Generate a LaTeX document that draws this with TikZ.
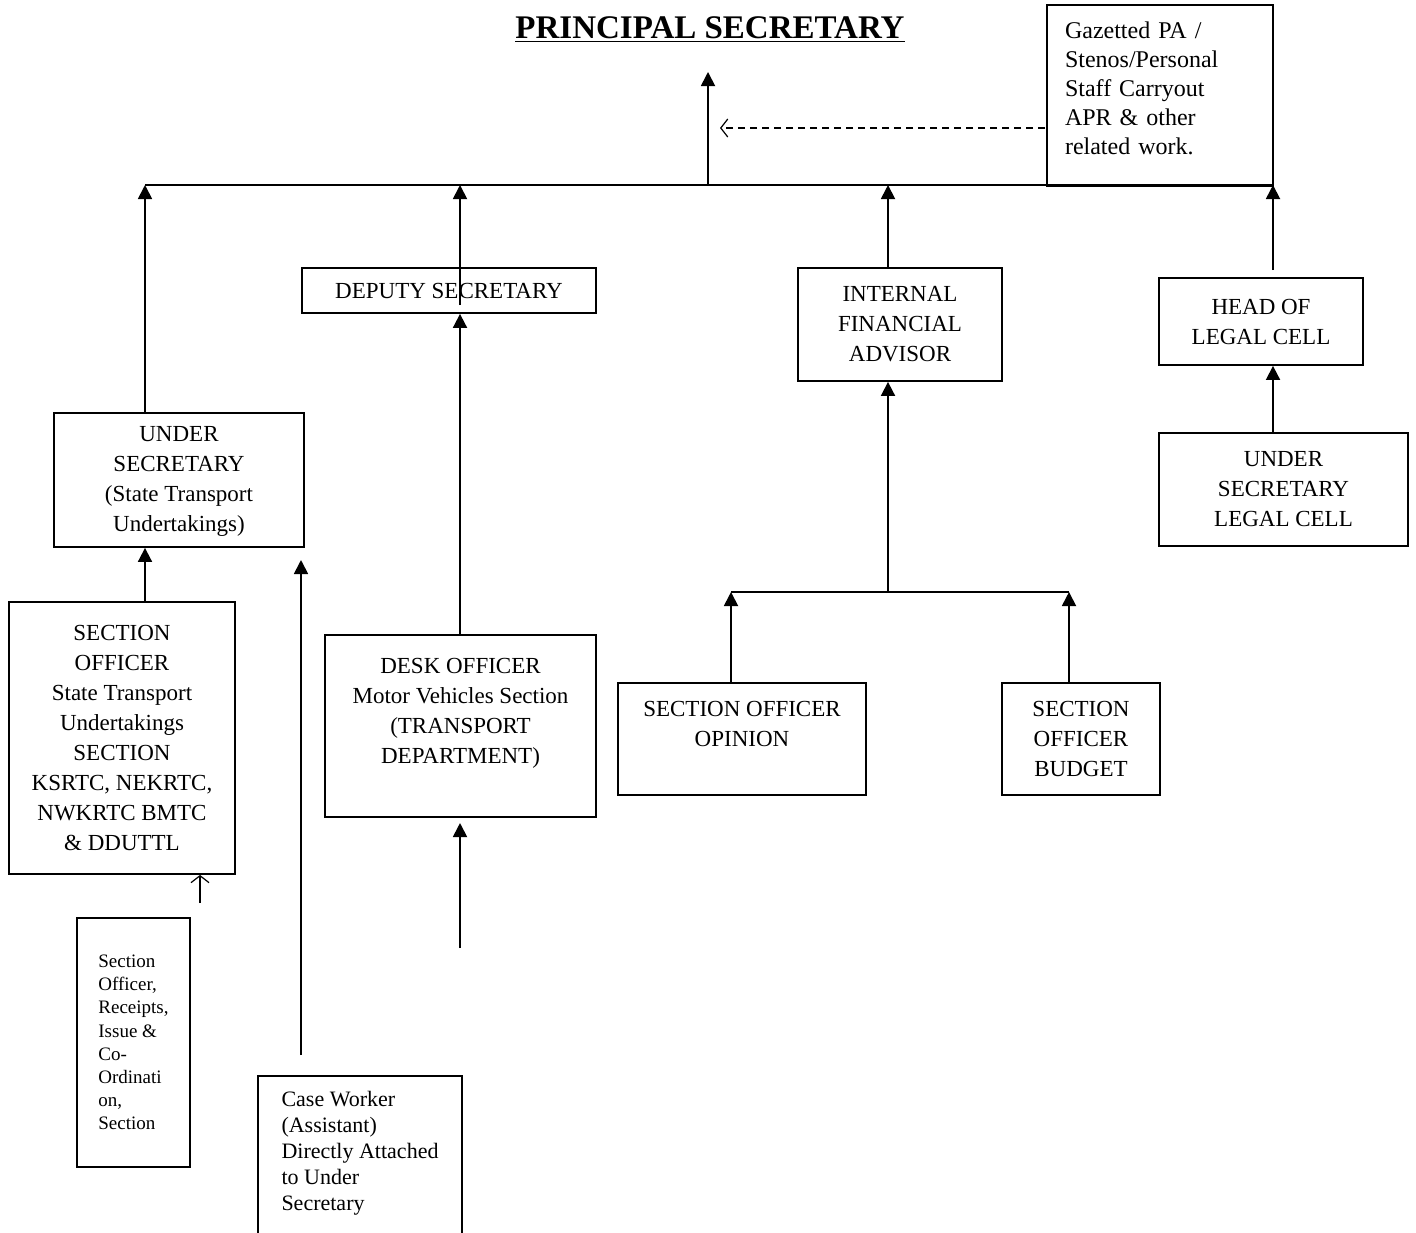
\documentclass[tikz,border=0pt]{standalone}
\usepackage{fontspec}
\setmainfont{Liberation Serif}
\usetikzlibrary{arrows.meta}
\tikzset{>={Triangle[width=7pt,length=7pt]}}
\tikzset{box/.style={draw, line width=0.9pt, align=center, inner sep=0pt,
    font=\fontsize{11.5}{15}\selectfont}}
\tikzset{barb/.style={-{Straight Barb[length=3.5pt,width=9pt]}, line width=0.6pt}}

\begin{document}
\begin{tikzpicture}[x=0.5pt,y=-0.5pt,line width=0.9pt]
  \clip (0,0) rectangle (1416,1232);

  \node[font=\fontsize{16.5}{19}\selectfont\bfseries] (ps) at (710,30)
    {\underline{PRINCIPAL SECRETARY}};

  \node[box, minimum width=113pt, minimum height=90.5pt, text width=95pt, align=left,
    font=\fontsize{12}{14.5}\selectfont] (gaz) at (1160,95.5)
    {Gazetted PA /\\Stenos/Personal\\Staff Carryout\\APR \& other\\related work.\\[-7.5pt]\mbox{}};

  \node[box, minimum width=147pt, minimum height=22.5pt] (dep) at (449,290.5)
    {DEPUTY SECRETARY};
  \node[box, minimum width=102pt, minimum height=56.5pt] (ifa) at (900,324.5)
    {INTERNAL\\FINANCIAL\\ADVISOR};
  \node[box, minimum width=102pt, minimum height=43.5pt] (hlc) at (1261,321.5)
    {HEAD OF\\LEGAL CELL};
  \node[box, minimum width=124.5pt, minimum height=56.5pt] (uslc) at (1283.5,489.5)
    {UNDER\\SECRETARY\\LEGAL CELL};
  \node[box, minimum width=125pt, minimum height=67pt] (ust) at (179,480)
    {\\[-6pt]UNDER\\SECRETARY\\(State Transport\\Undertakings)};
  \node[box, minimum width=113pt, minimum height=136pt] (sost) at (122,738)
    {SECTION\\OFFICER\\State Transport\\Undertakings\\SECTION\\KSRTC, NEKRTC,\\NWKRTC BMTC\\\& DDUTTL};
  \node[box, minimum width=135.5pt, minimum height=91pt] (desk) at (460.5,726)
    {DESK OFFICER\\Motor Vehicles Section\\(TRANSPORT\\DEPARTMENT)\\\mbox{}};
  \node[box, minimum width=124pt, minimum height=56pt] (opin) at (742,739)
    {SECTION OFFICER\\OPINION\\\mbox{}};
  \node[box, minimum width=79pt, minimum height=56pt] (budg) at (1081,739)
    {SECTION\\OFFICER\\BUDGET};
  \node[box, minimum width=56.5pt, minimum height=124.5pt, align=left,
    font=\fontsize{9.5}{11.6}\selectfont] (rcpt) at (133.5,1042.5)
    {Section\\Officer,\\Receipts,\\Issue \&\\Co-\\Ordinati\\on,\\Section};
  \node[box, minimum width=102pt, minimum height=82pt, align=left,
    font=\fontsize{11}{13}\selectfont] (cw) at (360,1158)
    {Case Worker\\(Assistant)\\Directly Attached\\to Under\\Secretary\\[-6pt]\mbox{}};

  \coordinate (busL) at (145,185);
  \coordinate (busR) at (1273,185);
  \coordinate (top) at (708,72);
  \coordinate (depin) at (460,305);
  \coordinate (ifabus) at (888,592);
  \coordinate (ibL) at (731,592);
  \coordinate (ibR) at (1069,592);
  \coordinate (hlcin) at (1273,270);
  \coordinate (deskin) at (460,948);
  \coordinate (deskout) at (460,823);
  \coordinate (cwa) at (301,1055);
  \coordinate (cwb) at (301,560);
  \coordinate (rca) at (200,903);
  \coordinate (dashR) at (1045,128);
  \coordinate (dashL) at (720,128);

  \draw (busL) -- (busR);
  \draw[->] (top |- busL) -- (top);
  \draw[barb, dash pattern=on 3.5pt off 2.5pt] (dashR) -- (dashL);

  \draw[->] (ust.north -| busL) -- (busL);
  \draw[->] (depin) -- (depin |- busL);
  \draw[->] (ifabus |- ifa.north) -- (ifabus |- busL);
  \draw[->] (hlcin) -- (busR);
  \draw[->] (busR |- uslc.north) -- (busR |- hlc.south);

  \draw[->] (deskin |- desk.north) -- (deskin |- dep.south);
  \draw[->] (deskin) -- (deskout);

  \draw (ibL) -- (ibR);
  \draw[->] (ifabus) -- (ifabus |- ifa.south);
  \draw[->] (ibL |- opin.north) -- (ibL);
  \draw[->] (ibR |- budg.north) -- (ibR);

  \draw[->] (busL |- sost.north) -- (busL |- ust.south);
  \draw[->] (cwa) -- (cwb);
  \draw[barb] (rca) -- (rca |- sost.south);

\end{tikzpicture}
\end{document}
